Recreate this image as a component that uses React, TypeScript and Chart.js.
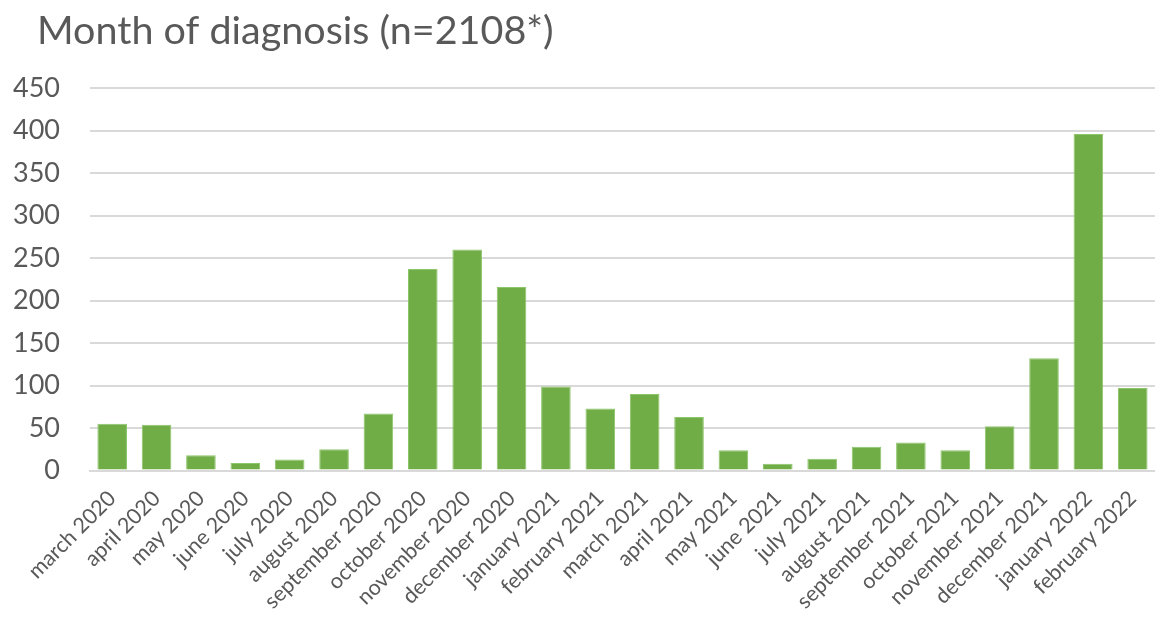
import React, { useEffect, useRef } from "react";
import { Chart, registerables } from "chart.js";

Chart.register(...registerables);

const months: string[] = [
  "march 2020", "april 2020", "may 2020", "june 2020", "july 2020", "august 2020",
  "september 2020", "october 2020", "november 2020", "december 2020", "january 2021",
  "february 2021", "march 2021", "april 2021", "may 2021", "june 2021", "july 2021",
  "august 2021", "september 2021", "october 2021", "november 2021", "december 2021",
  "january 2022", "february 2022",
];

const diagnoses: number[] = [
  55, 54, 18, 9, 13, 25, 67, 237, 260, 216, 99, 73,
  90, 63, 24, 8, 14, 28, 33, 24, 52, 132, 396, 97,
];

const titleText = "Month of diagnosis (n=2108*)";
const yMax = 450;
const yStep = 50;

const FONT = "Lato, 'Open Sans', sans-serif";
const TEXT = "#595959";

const titlePlugin = {
  id: "leftTitle",
  afterDraw(chart: any) {
    const ctx = chart.ctx;
    ctx.save();
    ctx.font = `39.5px ${FONT}`;
    ctx.fillStyle = TEXT;
    ctx.textBaseline = "alphabetic";
    ctx.textAlign = "left";
    ctx.fillText(titleText, 37, 44);
    ctx.restore();
  },
};

export default function App() {
  const ref = useRef<HTMLCanvasElement | null>(null);
  useEffect(() => {
    if (!ref.current) return;
    const chart = new Chart(ref.current, {
      type: "bar",
      data: {
        labels: months,
        datasets: [
          {
            data: diagnoses,
            backgroundColor: "#70AD47",
            borderColor: "#8cc56a",
            borderWidth: 1,
            categoryPercentage: 1,
            barPercentage: 0.667,
          },
        ],
      },
      options: {
        animation: false,
        responsive: false,
        maintainAspectRatio: false,
        layout: { padding: { top: 88, right: 0, bottom: -12, left: 12 } },
        plugins: {
          legend: { display: false },
          title: { display: false },
          tooltip: { enabled: false },
        },
        scales: {
          x: {
            grid: { display: false, drawTicks: false },
            border: { display: true, color: "#d9d9d9", width: 2 },
            ticks: {
              color: TEXT,
              font: { family: FONT, size: 21.5 },
              minRotation: 45,
              maxRotation: 45,
              autoSkip: false,
              padding: 15,
            },
          },
          y: {
            min: 0,
            max: yMax,
            grid: { color: "#d9d9d9", lineWidth: 2, drawTicks: false },
            border: { display: false },
            afterFit: (scale: any) => {
              scale.width = 78;
            },
            ticks: {
              stepSize: yStep,
              color: TEXT,
              font: { family: FONT, size: 27 },
              padding: 30,
            },
          },
        },
      },
      plugins: [titlePlugin],
    });
    return () => chart.destroy();
  }, []);
  return (
    <div style={{ position: "fixed", left: 0, top: 0, width: 1166, height: 617, background: "#fff" }}>
      <canvas ref={ref} width={1166} height={617} style={{ width: 1166, height: 617 }} />
    </div>
  );
}
